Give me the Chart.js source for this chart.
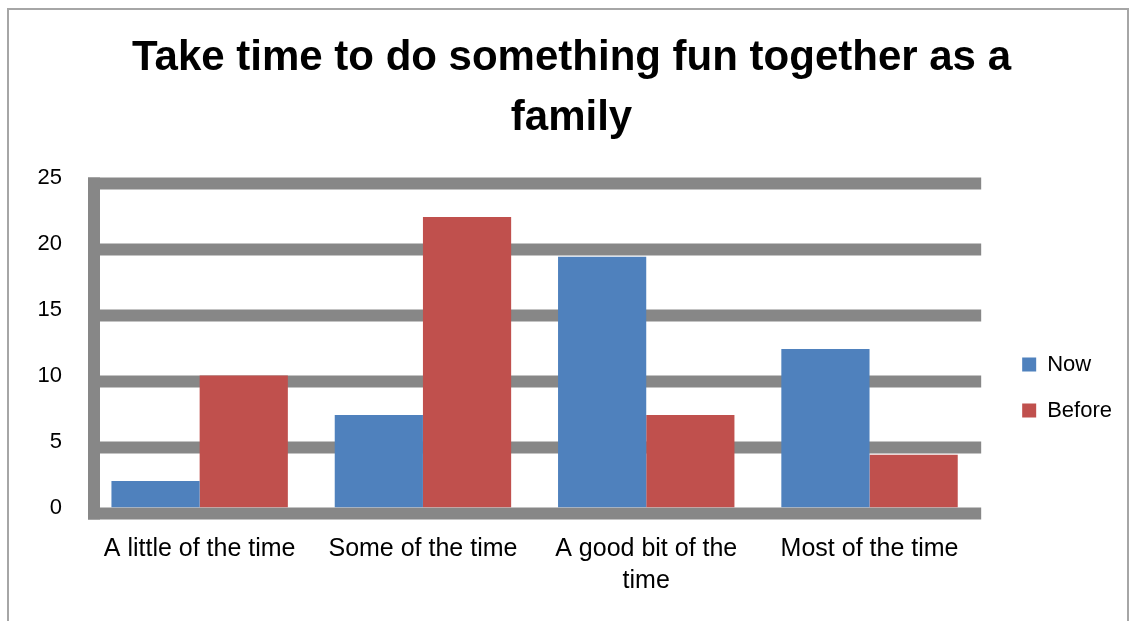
<!DOCTYPE html>
<html>
<head>
<meta charset="utf-8">
<script src="https://cdn.jsdelivr.net/npm/chart.js@4.4.1/dist/chart.umd.min.js"></script>
<style>
    body { margin: 0; background: #fff; }
    #frame {
        position: absolute; left: 7px; top: 8px;
        width: 1122px; height: 700px;
        box-sizing: border-box;
        border: 2px solid #a6a6a6;
    }
    #chart { position: absolute; left: 0; top: 0; }
</style>
</head>
<body>
<div id="frame"></div>
<canvas id="chart" width="1129" height="621"></canvas>
<script>
// survey answers, counted per group
const categories = ['A little of the time', 'Some of the time', ['A good bit of the', 'time'], 'Most of the time'];
const nowValues = [2, 7, 19, 12];
const beforeValues = [10, 22, 7, 4];
const yTicks = [0, 5, 10, 15, 20, 25];

const gridColor = '#878787';
const gridWidth = 12;
const fontName = "'Liberation Sans', Arial, sans-serif";

// thick grey rules: top edge sits on the value, plus the left axis bar
const thickGrid = {
    id: 'thickGrid',
    beforeDatasetsDraw(chart) {
        const { ctx, chartArea, scales: { y } } = chart;
        ctx.save();
        ctx.fillStyle = gridColor;
        yTicks.forEach(v => {
            ctx.fillRect(chartArea.left, y.getPixelForValue(v), chartArea.right - chartArea.left, gridWidth);
        });
        ctx.fillRect(chartArea.left, chartArea.top, gridWidth, chartArea.bottom - chartArea.top + gridWidth);
        ctx.restore();
    }
};

// legend sits lower and slightly further left than the default placement
const legendNudge = {
    id: 'legendNudge',
    afterLayout(chart) {
        const lg = chart.legend;
        lg.top += 77;
        lg.bottom += 77;
        lg.left -= 7;
        lg.right -= 7;
    }
};

new Chart(document.getElementById('chart'), {
    type: 'bar',
    data: {
        labels: categories,
        datasets: [
            { label: 'Now', data: nowValues, backgroundColor: '#4F81BD' },
            { label: 'Before', data: beforeValues, backgroundColor: '#C0504D' }
        ]
    },
    options: {
        responsive: false,
        animation: false,
        layout: { padding: { left: 14, right: 0, top: 0, bottom: 0 } },
        datasets: { bar: { categoryPercentage: 0.79, barPercentage: 1 } },
        scales: {
            x: {
                grid: { display: false, drawTicks: false },
                border: { display: false },
                ticks: {
                    color: '#000',
                    font: { family: fontName, size: 25, lineHeight: 32 / 25 },
                    padding: 26,
                    maxRotation: 0,
                    autoSkip: false
                },
                afterFit(scale) { scale.height = 113.5; }
            },
            y: {
                min: 0,
                max: 25,
                grid: { display: false, drawTicks: false },
                border: { display: false },
                ticks: {
                    stepSize: 5,
                    color: '#000',
                    font: { family: fontName, size: 22 },
                    padding: 26
                },
                afterFit(scale) { scale.width = 74; }
            },
            gap: {
                position: 'right',
                display: true,
                grid: { display: false, drawTicks: false },
                border: { display: false },
                ticks: { display: false },
                afterFit(scale) { scale.width = 24; }
            }
        },
        plugins: {
            title: {
                display: true,
                text: ['Take time to do something fun together as a', 'family'],
                color: '#000',
                font: { family: fontName, size: 42, weight: 'bold', lineHeight: 60 / 42 },
                padding: { top: 28, bottom: 29.5 }
            },
            legend: {
                position: 'right',
                labels: {
                    color: '#000',
                    boxWidth: 14,
                    boxHeight: 14,
                    padding: 24,
                    font: { family: fontName, size: 22 }
                }
            },
            tooltip: { enabled: false }
        }
    },
    plugins: [thickGrid, legendNudge]
});
</script>
</body>
</html>
